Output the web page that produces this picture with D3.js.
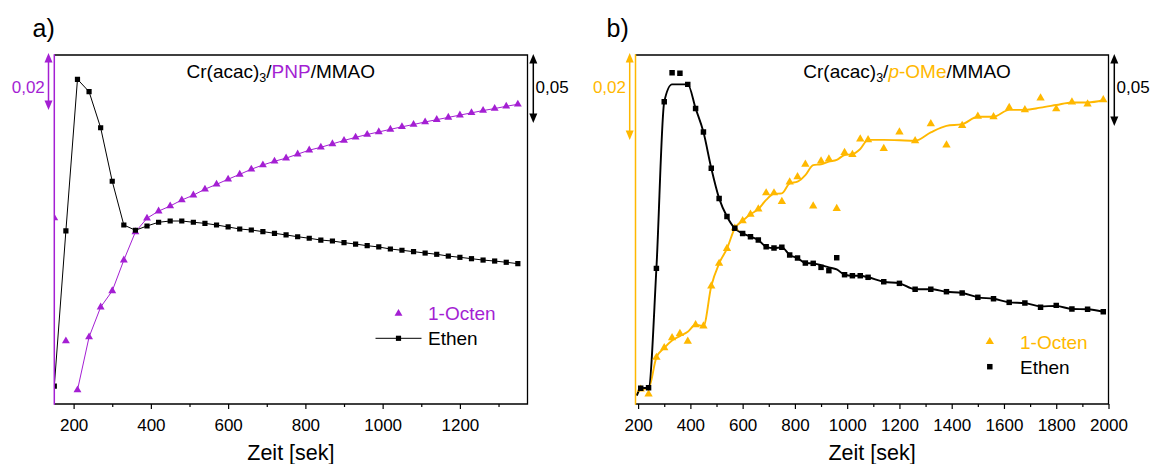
<!DOCTYPE html>
<html><head><meta charset="utf-8">
<script src="https://cdn.jsdelivr.net/npm/d3@7"></script>
<style>
body{margin:0;background:#fff}
svg{display:block;font-family:"Liberation Sans",Arial,sans-serif}
</style>
</head><body>
<svg id="c" width="1157" height="464"></svg>
<script>
// ---------- DATA ----------
// Panel a: Cr(acac)3/PNP/MMAO
const timeA = [150,180,210,240,270,300,330,360,390,420,450,480,510,540,570,600,630,660,690,720,750,780,810,840,870,900,930,960,990,1020,1050,1080,1110,1140,1170,1200,1230,1260,1290,1320,1350];
const octenA = [0.0653,0.0221,0.0049,0.0235,0.0340,0.0397,0.0505,0.0604,0.0652,0.0677,0.0695,0.0716,0.0733,0.0754,0.0771,0.0789,0.0806,0.0824,0.0839,0.0852,0.0863,0.0877,0.0891,0.0901,0.0913,0.0925,0.0936,0.0946,0.0955,0.0964,0.0973,0.0981,0.0990,0.0998,0.1006,0.1014,0.1022,0.1030,0.1037,0.1045,0.1052];
const ethenA = [0.0130,0.1254,0.2353,0.2263,0.2002,0.1614,0.1297,0.1259,0.1290,0.1317,0.1326,0.1326,0.1317,0.1309,0.1297,0.1283,0.1268,0.1261,0.1249,0.1237,0.1225,0.1212,0.1201,0.1188,0.1181,0.1169,0.1159,0.1147,0.1138,0.1123,0.1114,0.1104,0.1094,0.1085,0.1072,0.1063,0.1053,0.1043,0.1036,0.1027,0.1017];
const octenALineStart = 210;

// Panel b: Cr(acac)3/p-OMe/MMAO
const timeB = [210,240,270,300,330,360,390,420,450,480,510,540,570,600,630,660,690,720,750,780,810,840,870,900,930,960,990,1020,1050,1080,1140,1200,1260,1320,1380,1440,1500,1560,1620,1680,1740,1800,1860,1920,1980];
const octenB = [0.0034,0.0023,0.0107,0.0129,0.0152,0.0162,0.0144,0.0182,0.0179,0.0271,0.0323,0.0357,0.0404,0.0421,0.0436,0.0448,0.0485,0.0485,0.0465,0.0510,0.0522,0.0551,0.0455,0.0558,0.0563,0.0449,0.0578,0.0573,0.0609,0.0607,0.0587,0.0625,0.0605,0.0644,0.0595,0.0640,0.0661,0.0660,0.0681,0.0676,0.0703,0.0678,0.0694,0.0689,0.0699];
const ethenB = [0.0109,0.0113,0.0942,0.2099,0.2301,0.2297,0.2220,0.2053,0.1889,0.1637,0.1428,0.1302,0.1220,0.1185,0.1162,0.1139,0.1092,0.1083,0.1088,0.1035,0.1014,0.0979,0.0977,0.0949,0.0926,0.1016,0.0898,0.0891,0.0891,0.0880,0.0849,0.0838,0.0797,0.0797,0.0780,0.0771,0.0741,0.0731,0.0706,0.0701,0.0672,0.0685,0.0660,0.0658,0.0641];
// smoothed curves of panel b
const timeFitB = [195,210,240,270,300,330,360,390,420,450,480,510,540,570,600,630,660,690,720,750,780,810,840,870,900,930,960,990,1020,1050,1080,1140,1200,1260,1320,1380,1440,1500,1560,1620,1680,1740,1800,1860,1920,1980];
const octenFitB = [0.0021,0.0034,0.0036,0.0107,0.0129,0.0146,0.0156,0.0166,0.0182,0.0179,0.0271,0.0323,0.0357,0.0404,0.0421,0.0436,0.0448,0.0469,0.0483,0.0484,0.0507,0.0511,0.0526,0.0549,0.0551,0.0557,0.0561,0.0572,0.0574,0.0586,0.0607,0.0607,0.0606,0.0605,0.0624,0.0639,0.0643,0.0660,0.0660,0.0676,0.0676,0.0681,0.0687,0.0693,0.0693,0.0698];
const ethenFitB = [0.0058,0.0109,0.0113,0.0942,0.2099,0.2220,0.2220,0.2220,0.2053,0.1889,0.1637,0.1428,0.1302,0.1220,0.1185,0.1162,0.1139,0.1092,0.1083,0.1088,0.1035,0.1014,0.0979,0.0977,0.0965,0.0949,0.0935,0.0898,0.0891,0.0891,0.0880,0.0849,0.0838,0.0797,0.0797,0.0780,0.0771,0.0741,0.0731,0.0706,0.0701,0.0678,0.0681,0.0660,0.0658,0.0641];

// axes / labels
const ticksA = [200,400,600,800,1000,1200];
const minorA = [300,500,700,900,1100,1300];
const ticksB = [200,400,600,800,1000,1200,1400,1600,1800,2000];
const minorB = [300,500,700,900,1100,1300,1500,1700,1900];
const scaleBarOcten = 0.02, scaleBarEthen = 0.05;
const labelOcten = "0,02", labelEthen = "0,05";
const xLabel = "Zeit [sek]";
const legendOcten = "1-Octen", legendEthen = "Ethen";

// ---------- DRAW ----------
const PURPLE = "#A41FD3", ORANGE = "#FFB800";
const svg = d3.select("#c");
const TOP = 55, BOTTOM = 404;

function arrow(g, x, y1, y2, color) {
  const hl = 9.5, hw = 4;
  g.append("line").attr("x1", x).attr("x2", x).attr("y1", y1 + hl - 1).attr("y2", y2 - hl + 1)
    .attr("stroke", color).attr("stroke-width", 1.5);
  g.append("path").attr("d", `M${x},${y1}L${x-hw},${y1+hl}L${x+hw},${y1+hl}Z`).attr("fill", color);
  g.append("path").attr("d", `M${x},${y2}L${x-hw},${y2-hl}L${x+hw},${y2-hl}Z`).attr("fill", color);
}

function panel(cfg) {
  const g = svg.append("g");
  const x = d3.scaleLinear().domain(cfg.xDomain).range([cfg.left, cfg.right]);
  const yO = d3.scaleLinear().domain([0, cfg.yOMax]).range([BOTTOM, TOP]);
  const yE = d3.scaleLinear().domain([0, cfg.yEMax]).range([BOTTOM, TOP]);

  const clipId = "clip" + cfg.id;
  svg.append("clipPath").attr("id", clipId).append("rect")
    .attr("x", cfg.left).attr("y", TOP).attr("width", cfg.right - cfg.left).attr("height", BOTTOM - TOP);
  const plot = g.append("g").attr("clip-path", `url(#${clipId})`);

  // lines
  const oLine = d3.line().x(d => x(d.t)).y(d => yO(d.v)).curve(cfg.curve);
  const eLine = d3.line().x(d => x(d.t)).y(d => yE(d.v)).curve(cfg.curve);
  plot.append("path").datum(cfg.oLineData).attr("d", oLine)
    .attr("fill", "none").attr("stroke", cfg.color).attr("stroke-width", cfg.lw);
  plot.append("path").datum(cfg.eLineData).attr("d", eLine)
    .attr("fill", "none").attr("stroke", "#000").attr("stroke-width", cfg.lw);

  // markers
  const tri = d3.symbol().type(d3.symbolTriangle).size(cfg.triSize);
  const sq = d3.symbol().type(d3.symbolSquare).size(cfg.sqSize);
  plot.selectAll(".o").data(cfg.oPts).join("path")
    .attr("d", tri).attr("transform", d => `translate(${x(d.t)},${yO(d.v)})`).attr("fill", cfg.color);
  plot.selectAll(".e").data(cfg.ePts).join("path")
    .attr("d", sq).attr("transform", d => `translate(${x(d.t)},${yE(d.v)})`).attr("fill", "#000");

  // frame: top, right, bottom black; left coloured
  g.append("path")
    .attr("d", `M${cfg.left},${TOP}H${cfg.right}V${BOTTOM}H${cfg.left}`)
    .attr("fill", "none").attr("stroke", "#000").attr("stroke-width", 1.3);
  g.append("line").attr("x1", cfg.left).attr("x2", cfg.left).attr("y1", TOP - 0.65).attr("y2", BOTTOM + 0.65)
    .attr("stroke", cfg.color).attr("stroke-width", 1.5);

  // x axis
  const ax = g.append("g").attr("transform", `translate(0,${BOTTOM})`)
    .call(d3.axisBottom(x).tickValues(cfg.ticks).tickSize(5).tickFormat(d3.format("d")));
  ax.select(".domain").remove();
  ax.selectAll(".tick line").attr("stroke-width", 1.2);
  ax.selectAll("text").attr("y", 26.7).attr("dy", 0).attr("font-size", 17).attr("fill", "#000")
    .attr("font-family", '"Liberation Sans",Arial,sans-serif');
  const axm = g.append("g").attr("transform", `translate(0,${BOTTOM})`)
    .call(d3.axisBottom(x).tickValues(cfg.minor).tickSize(3).tickFormat(""));
  axm.select(".domain").remove();
  axm.selectAll(".tick line").attr("stroke-width", 1.2);

  g.append("text").attr("x", (cfg.left + cfg.right) / 2).attr("y", 459.5).attr("text-anchor", "middle")
    .attr("font-size", 21.5).text(xLabel);

  // panel letter
  g.append("text").attr("x", cfg.letterX).attr("y", 37).attr("font-size", 25).text(cfg.letter);

  // title
  const t = g.append("text").attr("x", cfg.titleX).attr("y", 77.5).attr("font-size", 19);
  t.append("tspan").text("Cr(acac)");
  t.append("tspan").attr("font-size", 12.5).attr("dy", 4).text("3");
  t.append("tspan").attr("dy", -4).text("/");
  cfg.titleMid.forEach(s => {
    const sp = t.append("tspan").attr("fill", cfg.color).text(s.text);
    if (s.italic) sp.attr("font-style", "italic");
  });
  t.append("tspan").text("/MMAO");

  // scale bars
  arrow(g, cfg.left - 5.8, TOP - 2, yO(cfg.yOMax - scaleBarOcten) - 2, cfg.color);
  arrow(g, cfg.right + 5.8, TOP - 1, yE(cfg.yEMax - scaleBarEthen) - 1, "#000");
  g.append("text").attr("x", cfg.left - 9.5).attr("y", 93).attr("text-anchor", "end")
    .attr("font-size", 17).attr("fill", cfg.color).text(labelOcten);
  g.append("text").attr("x", cfg.right + 8).attr("y", 93)
    .attr("font-size", 17).attr("fill", "#000").text(labelEthen);

  // legend
  const L = cfg.legend;
  g.append("path").attr("d", tri).attr("transform", `translate(${L.x},${L.y1})`).attr("fill", cfg.color);
  g.append("text").attr("x", L.tx).attr("y", L.y1 + 6.8).attr("font-size", 19).attr("fill", cfg.color).text(legendOcten);
  if (L.line) g.append("line").attr("x1", L.x - 23).attr("x2", L.x + 23).attr("y1", L.y2).attr("y2", L.y2)
    .attr("stroke", "#000").attr("stroke-width", cfg.lw);
  g.append("path").attr("d", sq).attr("transform", `translate(${L.x},${L.y2})`).attr("fill", "#000");
  g.append("text").attr("x", L.tx).attr("y", L.y2 + 6.8).attr("font-size", 19).attr("fill", "#000").text(legendEthen);
}

const zip = (ts, vs) => ts.map((t, i) => ({t, v: vs[i]}));

const oA = zip(timeA, octenA), eA = zip(timeA, ethenA);
panel({
  id: "a", left: 54.3, right: 527.5, xDomain: [150, 1375],
  yOMax: 0.1225, yEMax: 0.2529, color: PURPLE, lw: 1, curve: d3.curveLinear,
  oPts: oA, ePts: eA, oLineData: oA.filter(d => d.t >= octenALineStart), eLineData: eA,
  triSize: 27, sqSize: 27,
  ticks: ticksA, minor: minorA, letter: "a)", letterX: 32.5, titleX: 186.5,
  titleMid: [{text: "PNP"}],
  legend: {x: 398.5, y1: 313.5, y2: 338.3, tx: 428, line: true}
});

panel({
  id: "b", left: 635.5, right: 1108.5, xDomain: [190, 2000],
  yOMax: 0.0802, yEMax: 0.2424, color: ORANGE, lw: 1.9, curve: d3.curveMonotoneX,
  oPts: zip(timeB, octenB), ePts: zip(timeB, ethenB),
  oLineData: zip(timeFitB, octenFitB), eLineData: zip(timeFitB, ethenFitB),
  triSize: 30, sqSize: 30,
  ticks: ticksB, minor: minorB, letter: "b)", letterX: 606.5, titleX: 803.3,
  titleMid: [{text: "p", italic: true}, {text: "-OMe"}],
  legend: {x: 989.8, y1: 341.7, y2: 366.7, tx: 1020, line: false}
});
</script>
</body></html>
